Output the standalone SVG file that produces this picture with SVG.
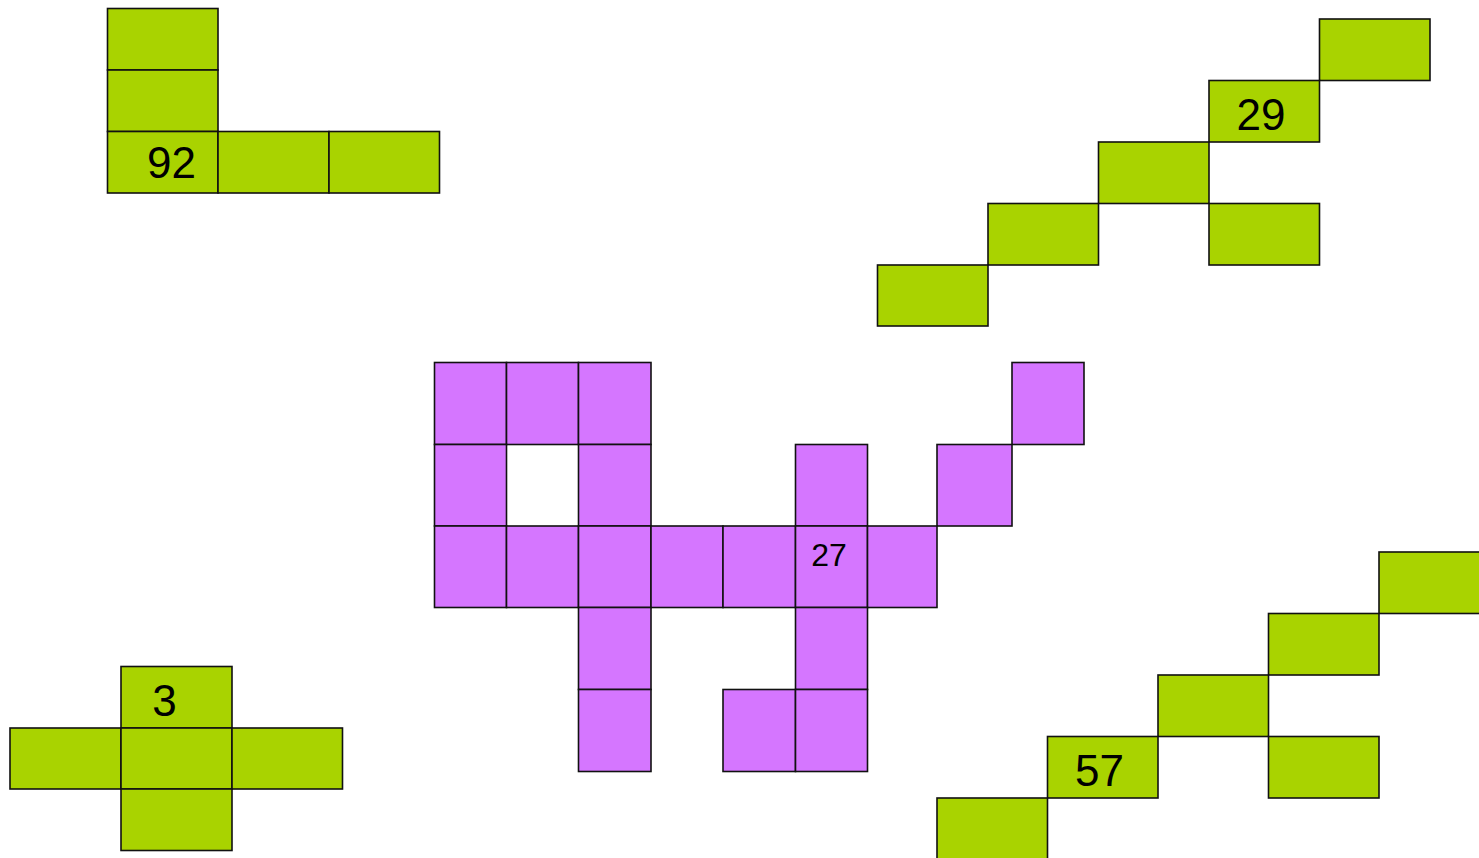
<svg xmlns="http://www.w3.org/2000/svg" width="1479" height="858" viewBox="0 0 1479 858">
<style>
.g{fill:#A9D300;stroke:#111;stroke-width:1.6}
.p{fill:#D576FF;stroke:#111;stroke-width:1.6}
.t{font-family:"Liberation Sans",Arial,sans-serif;font-size:44px;fill:#000;text-anchor:middle}
.ts{font-family:"Liberation Sans",Arial,sans-serif;font-size:32px;fill:#000;text-anchor:middle}
</style>
<rect width="1479" height="858" fill="#fff"/>
<g id="shape92">
<rect class="g" x="107.5" y="8.5" width="110.5" height="61.5"/>
<rect class="g" x="107.5" y="70" width="110.5" height="61.5"/>
<rect class="g" x="107.5" y="131.5" width="110.5" height="61.5"/>
<rect class="g" x="218" y="131.5" width="111" height="61.5"/>
<rect class="g" x="329" y="131.5" width="110.5" height="61.5"/>
<text class="t" x="171.5" y="177.5">92</text>
</g>
<g id="shape29">
<rect class="g" x="1319.5" y="19" width="110.5" height="61.5"/>
<rect class="g" x="1209" y="80.5" width="110.5" height="61.5"/>
<rect class="g" x="1098.5" y="142" width="110.5" height="61.5"/>
<rect class="g" x="988" y="203.5" width="110.5" height="61.5"/>
<rect class="g" x="1209" y="203.5" width="110.5" height="61.5"/>
<rect class="g" x="877.5" y="265" width="110.5" height="61"/>
<text class="t" x="1261" y="130">29</text>
</g>
<g id="shape3">
<rect class="g" x="121" y="666.5" width="111" height="61.5"/>
<rect class="g" x="10" y="728" width="111" height="61"/>
<rect class="g" x="121" y="728" width="111" height="61"/>
<rect class="g" x="232" y="728" width="110.5" height="61"/>
<rect class="g" x="121" y="789" width="111" height="61.5"/>
<text class="t" x="164.5" y="715.5">3</text>
</g>
<g id="shape57">
<rect class="g" x="1379" y="552" width="110.5" height="61.5"/>
<rect class="g" x="1268.5" y="613.5" width="110.5" height="61.5"/>
<rect class="g" x="1158" y="675" width="110.5" height="61.5"/>
<rect class="g" x="1047.5" y="736.5" width="110.5" height="61.5"/>
<rect class="g" x="1268.5" y="736.5" width="110.5" height="61.5"/>
<rect class="g" x="937" y="798" width="110.5" height="61.5"/>
<text class="t" x="1099.5" y="786">57</text>
</g>
<g id="shape27">
<rect class="p" x="434.5" y="362.5" width="72" height="82"/>
<rect class="p" x="506.5" y="362.5" width="72" height="82"/>
<rect class="p" x="578.5" y="362.5" width="72.5" height="82"/>
<rect class="p" x="1012" y="362.5" width="72" height="82"/>
<rect class="p" x="434.5" y="444.5" width="72" height="81.5"/>
<rect class="p" x="578.5" y="444.5" width="72.5" height="81.5"/>
<rect class="p" x="795.5" y="444.5" width="72" height="81.5"/>
<rect class="p" x="937" y="444.5" width="75" height="81.5"/>
<rect class="p" x="434.5" y="526" width="72" height="81.5"/>
<rect class="p" x="506.5" y="526" width="72" height="81.5"/>
<rect class="p" x="578.5" y="526" width="72.5" height="81.5"/>
<rect class="p" x="651" y="526" width="72" height="81.5"/>
<rect class="p" x="723" y="526" width="72.5" height="81.5"/>
<rect class="p" x="795.5" y="526" width="72" height="81.5"/>
<rect class="p" x="867.5" y="526" width="69.5" height="81.5"/>
<rect class="p" x="578.5" y="607.5" width="72.5" height="82"/>
<rect class="p" x="795.5" y="607.5" width="72" height="82"/>
<rect class="p" x="578.5" y="689.5" width="72.5" height="82"/>
<rect class="p" x="723" y="689.5" width="72.5" height="82"/>
<rect class="p" x="795.5" y="689.5" width="72" height="82"/>
<text class="ts" x="829" y="566">27</text>
</g>
<g id="connectors"/>
</svg>
